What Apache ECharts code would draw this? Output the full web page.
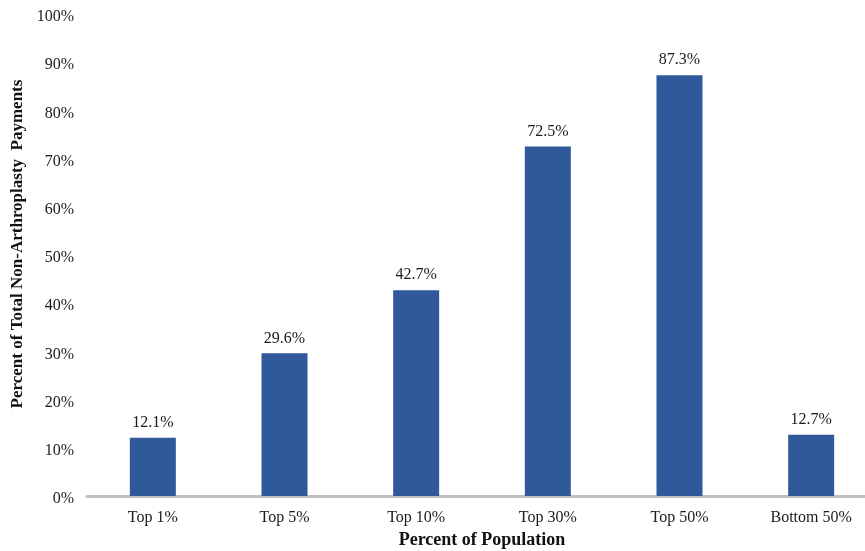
<!DOCTYPE html>
<html><head><meta charset="utf-8">
<script src="https://cdn.jsdelivr.net/npm/echarts@6/dist/echarts.min.js"></script>
<style>html,body{margin:0;padding:0;background:#fff}#c{width:865px;height:551px}</style>
</head><body><div id="c"></div>
<script>
const categories = ["Top 1%", "Top 5%", "Top 10%", "Top 30%", "Top 50%", "Bottom 50%"];
const values = [12.1, 29.6, 42.7, 72.5, 87.3, 12.7];
const yTicks = [0, 10, 20, 30, 40, 50, 60, 70, 80, 90, 100];
const font = '"Liberation Serif", "Times New Roman", serif';
const chart = echarts.init(document.getElementById('c'), null, {renderer: 'canvas'});
chart.setOption({
  animation: false,
  grid: {left: 87, right: -12, top: 14, bottom: 55, containLabel: false, outerBoundsMode: 'none'},
  xAxis: {
    type: 'category', data: categories,
    axisLine: {lineStyle: {color: '#bfbfbf', width: 3}},
    axisTick: {show: false},
    axisLabel: {color: '#1a1a1a', fontFamily: font, fontSize: 16, margin: 14},
    name: 'Percent of Population', nameLocation: 'middle', nameGap: 35,
    nameTextStyle: {fontFamily: font, fontSize: 18, fontWeight: 'bold', color: '#111'}
  },
  yAxis: {
    type: 'value', min: 0, max: yTicks[yTicks.length - 1], interval: 10,
    axisLine: {show: false}, axisTick: {show: false}, splitLine: {show: false},
    axisLabel: {
      color: '#1a1a1a', fontFamily: font, fontSize: 16, margin: 13,
      formatter: v => '{a|' + v + '%}',
      rich: {a: {color: '#1a1a1a', fontFamily: font, fontSize: 16, padding: [6, 0, 0, 0]}}
    },
    name: 'Percent of Total Non-Arthroplasty  Payments', nameLocation: 'middle', nameGap: 58,
    nameTextStyle: {fontFamily: font, fontSize: 17, fontWeight: 'bold', color: '#111', padding: [0, 0, 0, 22]}
  },
  series: [{
    type: 'bar', data: values, barWidth: 46,
    itemStyle: {color: '#30599c'},
    label: {show: true, position: 'top', distance: 7, color: '#1a1a1a', fontFamily: font, fontSize: 16, formatter: p => p.value.toFixed(1) + '%'}
  }]
});
</script></body></html>
